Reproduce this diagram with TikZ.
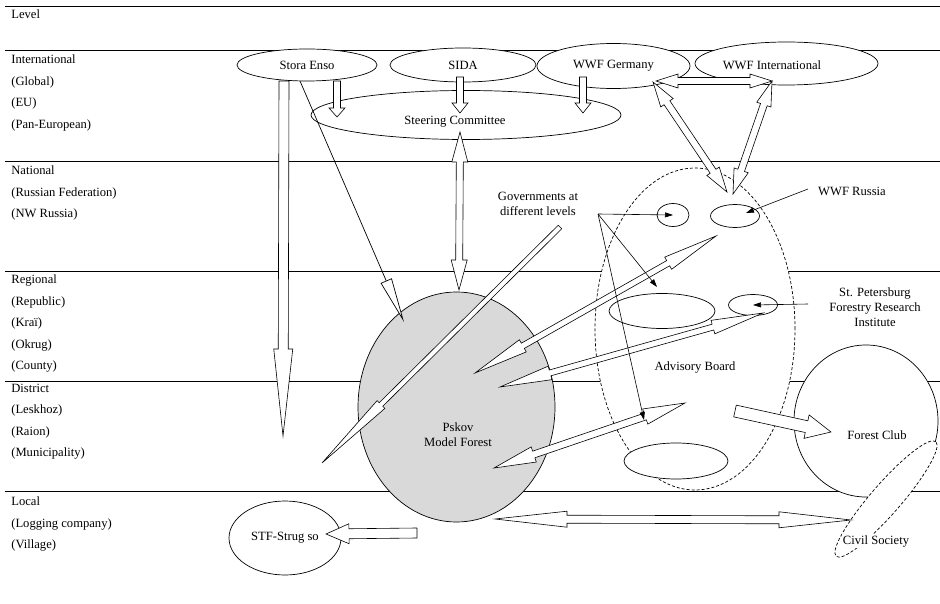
\documentclass[tikz,border=0pt]{standalone}
\usepackage{fontspec}
\setmainfont{Liberation Serif}
\usetikzlibrary{shapes.geometric,arrows.meta,calc}

% hollow block arrows between two named points
\newcommand{\getarrowvec}[2]{%
  \path let \p1=($(#2)-(#1)$) in \pgfextra{%
    \pgfmathsetmacro{\baAng}{atan2(\y1,\x1)}\global\let\baAng\baAng
    \pgfmathsetlengthmacro{\baLen}{veclen(\x1,\y1)}\global\let\baLen\baLen};}
\newcommand{\blockarrow}[5]{% from, to, shaft, head width, head length
  \getarrowvec{#1}{#2}
  \begin{scope}[shift={(#1)},rotate=\baAng]
    \pgfmathsetlengthmacro{\baBase}{\baLen-#5pt}
    \draw[hollow] (0pt,#3pt) -- (\baBase,#3pt) -- (\baBase,#4pt) -- (\baLen,0pt)
      -- (\baBase,-#4pt) -- (\baBase,-#3pt) -- (0pt,-#3pt) -- cycle;
  \end{scope}}
\newcommand{\dblockarrow}[5]{%
  \getarrowvec{#1}{#2}
  \begin{scope}[shift={(#1)},rotate=\baAng]
    \pgfmathsetlengthmacro{\baBase}{\baLen-#5pt}
    \draw[hollow] (0pt,0pt) -- (#5pt,#4pt) -- (#5pt,#3pt) -- (\baBase,#3pt) -- (\baBase,#4pt)
      -- (\baLen,0pt) -- (\baBase,-#4pt) -- (\baBase,-#3pt) -- (#5pt,-#3pt) -- (#5pt,-#4pt) -- cycle;
  \end{scope}}

\begin{document}
\begin{tikzpicture}[
  x=1pt, y=-1pt,
  font=\fontsize{12.6}{15}\selectfont,
  line width=0.7pt,
  levelline/.style={line width=0.8pt},
  levellabel/.style={anchor=north west, inner sep=0pt, align=left, font=\fontsize{12.6}{21.5}\selectfont},
  bubble/.style={ellipse, draw=black, fill=white, inner sep=0pt},
  dashbubble/.style={ellipse, draw=black, dash pattern=on 3pt off 2pt, fill=white, inner sep=0pt},
  hollow/.style={draw=black, fill=white, line width=0.6pt},
  pointer/.style={line width=0.6pt,-{Triangle[length=8pt,width=5pt]}},
  openhead/.style={line width=0.7pt,-{Triangle[length=45pt,width=12pt,fill=white]}}
]
\useasboundingbox (0,0) rectangle (940,604);

%Levels
\foreach \ly in {6,50.7,161.7,271.7,381.7,491}
  \draw[levelline] (5,\ly) -- (940,\ly);

\node[levellabel] (lvl)  at (11,9.6)   {Level};
\node[levellabel] (intl) at (11,54.6)  {International\\(Global)\\(EU)\\(Pan-European)};
\node[levellabel] (natl) at (11,165.6) {National\\(Russian Federation)\\(NW Russia)};
\node[levellabel] (regl) at (11,274.6) {Regional\\(Republic)\\(Kraï)\\(Okrug)\\(County)};
\node[levellabel] (dist) at (11,383.6) {District\\(Leskhoz)\\(Raion)\\(Municipality)};
\node[levellabel] (locl) at (11,496.6) {Local\\(Logging company)\\(Village)};

%Nodes
\node[bubble, fill=gray!30, minimum width=197pt, minimum height=230pt] (pskov) at (456.5,407) {};
\node[align=center] (pskovtxt) at (458,435) {Pskov\\Model Forest};

\node[dashbubble, minimum width=200pt, minimum height=322pt] (advisory) at (695,329) {};
\node (advtxt) at (695,367) {Advisory Board};

\node[bubble, minimum width=144pt, minimum height=152pt] (club) at (866,421) {};
\node (clubtxt) at (877,435) {Forest Club};
\node[dashbubble, minimum width=152pt, minimum height=30pt, rotate=49] (civil) at (886,499) {};
\node[fill=white, inner sep=1pt] (civiltxt) at (876,541) {Civil Society};

\node[bubble, minimum width=112pt, minimum height=74pt] (strug) at (285,538) {STF-Strug so};

\node[bubble, minimum width=140pt, minimum height=32pt] (stora)  at (307,65)    {Stora Enso};
\node[bubble, minimum width=146pt, minimum height=34pt] (sida)   at (463,65)    {SIDA};
\node[bubble, minimum width=153pt, minimum height=45pt] (wwfger) at (613.5,66)  {WWF Germany};
\node[bubble, minimum width=183pt, minimum height=43pt] (wwfint) at (786.5,63.5) {};
\node (wwfinttxt) at (772,65.5) {WWF International};
\node[bubble, minimum width=310pt, minimum height=49pt] (steering) at (466,115) {};
\node (steeringtxt) at (455,122) {Steering Committee};

\node[bubble, minimum width=32pt,  minimum height=23pt] (govell) at (673,215) {};
\node[bubble, minimum width=49pt,  minimum height=23pt] (rusell) at (735,216) {};
\node[bubble, minimum width=106pt, minimum height=35pt] (midell) at (662,311) {};
\node[bubble, minimum width=49pt,  minimum height=21pt] (spbell) at (753,305) {};
\node[bubble, minimum width=104pt, minimum height=36pt] (lowell) at (676,461) {};

\node[align=center] (govtxt) at (538,203.5) {Governments at\\different levels};
\node (rustxt) at (852,191) {WWF Russia};
\node[align=center] (spbtxt) at (875,307) {St. Petersburg\\Forestry Research\\Institute};

%Arrow ends
\coordinate (s1) at (284,81);  \coordinate (s1e) at (283,436);
\coordinate (s2) at (300,81);  \coordinate (s2e) at (404,322);
\coordinate (s3) at (337,81);  \coordinate (s3e) at (337,117);
\coordinate (sd) at (460,77);  \coordinate (sde) at (460,113);
\coordinate (gd) at (583,77);  \coordinate (gde) at (583,113);
\coordinate (sc) at (460,132); \coordinate (pk) at (459,290);
\coordinate (grpt) at (656,81);  \coordinate (intpt) at (772,81);
\coordinate (grb) at (653,82);
\coordinate (rus1) at (727,192); \coordinate (rus2) at (733,194);
\coordinate (a1p) at (475,373); \coordinate (a1b) at (716,236);
\coordinate (a2p) at (500,387); \coordinate (a2b) at (763,313);
\coordinate (a3p) at (494,468); \coordinate (a3b) at (685,403);
\coordinate (gvs) at (560,227); \coordinate (gve) at (322,463);
\coordinate (fc1) at (735,411); \coordinate (fc2) at (831,432);
\coordinate (bt1) at (495,519); \coordinate (bt2) at (851,520);
\coordinate (st1) at (417,533); \coordinate (st2) at (326,534);
\coordinate (govpt) at (598,214);
\coordinate (midpt) at (657,287);
\coordinate (lowpt) at (644,420);
\coordinate (ruspt) at (808,189); \coordinate (rustip) at (746,213);
\coordinate (spbpt) at (808,304);

%Block arrows
\blockarrow{s1}{s1e}{5}{9.5}{87}
\blockarrow{s3}{s3e}{3.5}{8}{9}
\blockarrow{sd}{sde}{3.5}{8}{10}
\blockarrow{gd}{gde}{3.5}{8}{10}
\dblockarrow{sc}{pk}{3.5}{8}{30}
\dblockarrow{grpt}{intpt}{3.5}{7}{22}
\dblockarrow{grb}{rus1}{3.5}{7.5}{25}
\dblockarrow{intpt}{rus2}{3.5}{7.5}{25}
\dblockarrow{a1p}{a1b}{3}{7}{55}
\dblockarrow{a2p}{a2b}{3}{7}{52}
\dblockarrow{a3p}{a3b}{3.5}{8}{42}
\blockarrow{gvs}{gve}{2.5}{5.5}{83}
\blockarrow{fc1}{fc2}{6}{12}{25}
\dblockarrow{bt1}{bt2}{4}{8}{72}
\blockarrow{st1}{st2}{5}{10}{23}

%Arrows
\draw[openhead] (s2) -- (s2e);
\draw[pointer] (govpt) -- (govell.center);
\draw[pointer] (govpt) -- (midpt);
\draw[pointer] (govpt) -- (lowpt);
\draw[pointer] (ruspt) -- (rustip);
\draw[pointer] (spbpt) -- (spbell.center);

\end{tikzpicture}
\end{document}
